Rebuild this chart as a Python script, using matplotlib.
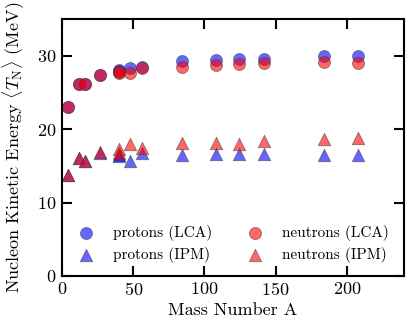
import numpy as np
import matplotlib
matplotlib.use("Agg")
import matplotlib.pyplot as plt

plt.rcParams['font.family'] = 'serif'
plt.rcParams['font.serif'] = ['cmr10']
plt.rcParams['mathtext.fontset'] = 'cm'
plt.rcParams['axes.formatter.use_mathtext'] = True

# mass numbers (He4, C12, O16, Al27, Ar40, Ca40, Ca48, Fe56, Kr84, Ag108, Sn124, Nd142, W184, Pb208)
A = [4, 12, 16, 27, 40, 40, 48, 56, 84, 108, 124, 142, 184, 208]
p_lca = [23.0, 26.1, 26.2, 27.45, 28.1, 28.0, 28.4, 28.5, 29.27, 29.4, 29.55, 29.6, 29.96, 29.96]
n_lca = [23.0, 26.1, 26.2, 27.35, 27.6, 27.8, 27.7, 28.3, 28.5, 28.7, 28.86, 28.96, 29.2, 29.0]
p_ipm = [13.7, 16.05, 15.6, 16.7, 16.3, 16.5, 15.65, 16.75, 16.44, 16.6, 16.67, 16.6, 16.44, 16.44]
n_ipm = [13.7, 16.05, 15.6, 16.85, 17.3, 16.8, 18.0, 17.5, 18.15, 18.1, 18.0, 18.4, 18.73, 18.86]

fig = plt.figure(figsize=(4.19, 3.25), dpi=100)
ax = fig.add_axes([0.148, 0.151, 0.816, 0.79])

kw = dict(alpha=0.6, edgecolors='0.25', linewidths=0.6)
ax.scatter(A, p_lca, s=75, c='blue', marker='o', label='protons (LCA)', **kw)
ax.scatter(A, p_ipm, s=80, c='blue', marker='^', label='protons (IPM)', **kw)
ax.scatter(A, n_lca, s=75, c='red', marker='o', label='neutrons (LCA)', **kw)
ax.scatter(A, n_ipm, s=80, c='red', marker='^', label='neutrons (IPM)', **kw)

ax.set_xlim(0, 240)
ax.set_ylim(0, 35)
ax.set_xticks([0, 50, 100, 150, 200])
ax.set_yticks([0, 10, 20, 30])
ax.tick_params(direction='in', length=7, width=1.5, top=True, right=True,
               labelsize=13, pad=4)
for sp in ax.spines.values():
    sp.set_linewidth(1.5)

ax.set_xlabel('Mass Number A', fontsize=13, labelpad=3)
ax.set_ylabel(r'Nucleon Kinetic Energy $\langle T_{\rm N}\rangle$ (MeV)', fontsize=13)
ax.yaxis.set_label_coords(-0.102, 0.5)

ax.legend(loc='lower left', ncol=2, frameon=False, fontsize=11,
          handletextpad=0.8, columnspacing=1.75, labelspacing=0.45,
          bbox_to_anchor=(-0.015, -0.005))

fig.savefig('out.png', dpi=100)
